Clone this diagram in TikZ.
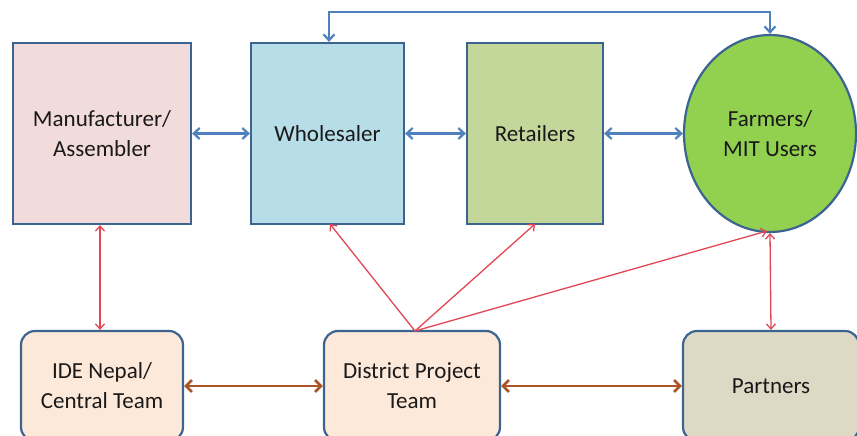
\documentclass[tikz,border=0pt]{standalone}
\usepackage{fontspec}
\setmainfont{Carlito}
\usetikzlibrary{arrows.meta,shapes.geometric}
\definecolor{bord}{RGB}{60,100,145}
\definecolor{bluearr}{RGB}{79,129,189}
\definecolor{redarr}{RGB}{225,70,85}
\definecolor{brownarr}{RGB}{170,85,40}
\definecolor{fpink}{RGB}{242,220,219}
\definecolor{fblue}{RGB}{183,222,232}
\definecolor{folive}{RGB}{196,215,155}
\definecolor{fgreen}{RGB}{146,208,80}
\definecolor{fpeach}{RGB}{253,233,217}
\definecolor{ftan}{RGB}{221,217,196}
\definecolor{txt}{RGB}{25,25,25}
\begin{document}
\begin{tikzpicture}[x=1pt,y=-1pt,
  topbox/.style={draw=bord,line width=2.2pt,font=\fontsize{23}{30}\selectfont,text=txt,align=center,inner sep=0pt},
  botbox/.style={draw=bord,line width=2.2pt,rounded corners=14pt,font=\fontsize{23}{30}\selectfont,text=txt,align=center,inner sep=0pt},
  barr/.style={draw=bluearr,line width=2.2pt,{Straight Barb[length=6pt,width=11pt]}-{Straight Barb[length=6pt,width=11pt]}},
  rarr/.style={draw=redarr,line width=1.3pt,{Straight Barb[length=5pt,width=9pt]}-{Straight Barb[length=5pt,width=9pt]}},
  rarr1/.style={draw=redarr,line width=1.3pt,-{Straight Barb[length=5pt,width=9pt]}},
  brarr/.style={draw=brownarr,line width=2.6pt,{Straight Barb[length=6pt,width=12pt]}-{Straight Barb[length=6pt,width=12pt]}}]
\useasboundingbox (0,0) rectangle (857,436);
\node[topbox,fill=fpink,minimum width=178pt,minimum height=181pt] (man) at (102,133.5) {Manufacturer/\\Assembler};
\node[topbox,fill=fblue,minimum width=153pt,minimum height=181pt] (who) at (327.5,133.5) {Wholesaler};
\node[topbox,fill=folive,minimum width=136pt,minimum height=181pt] (ret) at (535,133.5) {Retailers};
\node[topbox,ellipse,fill=fgreen,minimum width=172pt,minimum height=197pt] (far) at (770,133.5) {Farmers/\\MIT Users};
\node[botbox,fill=fpeach,minimum width=162pt,minimum height=110pt] (ide) at (102,386) {IDE Nepal/\\Central Team};
\node[botbox,fill=fpeach,minimum width=176pt,minimum height=110pt] (dis) at (412,386) {District Project\\Team};
\node[botbox,fill=ftan,minimum width=176pt,minimum height=110pt] (par) at (771,386) {Partners};
\coordinate (c1) at (329,12);
\coordinate (c2) at (770,12);
\draw[barr] (man.east |- 0,133.5) -- (who.west |- 0,133.5);
\draw[barr] (who.east |- 0,133.5) -- (ret.west |- 0,133.5);
\draw[barr] (ret.east |- 0,133.5) -- (far.west);
\draw[barr] (who.north -| c1) -- (c1) -- (c2) -- (far.north);
\draw[rarr] (man.south -| 100,0) -- (ide.north -| 100,0);
\coordinate (d) at (415,331);
\draw[rarr1] (d) -- (330,224);
\draw[rarr1] (d) -- (535,224);
\draw[rarr1] (d) -- (767,231);
\draw[rarr] (far.south) -- (par.north);
\draw[brarr] (ide.east) -- (dis.west);
\draw[brarr] (dis.east) -- (par.west);
\end{tikzpicture}
\end{document}
